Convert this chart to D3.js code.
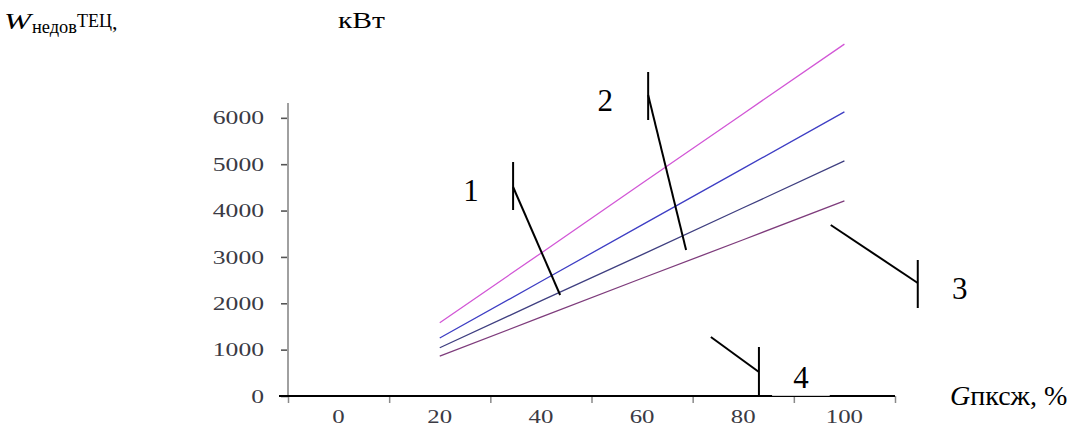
<!DOCTYPE html>
<html>
<head>
<meta charset="utf-8">
<script src="https://cdn.jsdelivr.net/npm/d3@7"></script>
<style>
  body { margin: 0; background: #fff; }
  svg { display: block; font-family: "Liberation Serif", "Times New Roman", serif; }
</style>
</head>
<body>
<div id="chart"></div>
<script>
/************************** DATA **************************/

// G пксж, % (category axis)
var categories = [0, 20, 40, 60, 80, 100];
var seriesX = [20, 40, 60, 80, 100];

// W недов ТЕЦ, кВт
var series1 = [1580, 3080, 4590, 6090, 7590]; // magenta
var series2 = [1250, 2470, 3690, 4910, 6130]; // blue
var series3 = [1040, 2050, 3050, 4060, 5070]; // navy
var series4 = [860, 1700, 2540, 3370, 4210];  // purple

var yTicks = [0, 1000, 2000, 3000, 4000, 5000, 6000];

// callouts in data units: label pos, bar (g, v1, v2), leader [g,v] -> [g,v]
var calloutLabels = ['1', '2', '3', '4'];
var calloutText = [[26.2, 4206], [52.7, 6154], [122.8, 2092], [91.4, 173]];
var calloutBar = [[34.5, 4012, 5047], [61.2, 5953, 6989], [114.5, 1898, 2934], [83.1, 0, 1057]];
var calloutLeader = [[[34.5, 4508], [43.8, 2179]], [[61.2, 6493], [68.7, 3149]],
                     [[97.3, 3689], [114.5, 2437]], [[73.6, 1273], [83.1, 518]]];

/************************** RENDER **************************/

var width = 1071, height = 446;
var colors = ['#d257d6', '#3e3ec4', '#3f3f80', '#7e3c7c'];

var svg = d3.select('#chart').append('svg')
    .attr('width', width)
    .attr('height', height);

// category axis: one band of 20% per category, labels in the middle
var x = d3.scaleLinear().domain([-10, 110]).range([288, 895]);
var y = d3.scaleLinear().domain([0, 6320]).range([396, 103]);

// wide serif digits, like in the picture
function stretch(sel, perChar) {
  sel.attr('textLength', function(d) { return String(d).length * perChar; })
     .attr('lengthAdjust', 'spacingAndGlyphs');
}

// y axis
var yAxis = svg.append('g')
    .attr('transform', 'translate(' + x(-10) + ',0)')
    .call(d3.axisLeft(y).tickValues(yTicks).tickFormat(d3.format('d'))
      .tickSize(7).tickPadding(17));
yAxis.select('.domain').remove();
yAxis.selectAll('.tick line').attr('stroke', '#555').attr('stroke-width', 1.6);
yAxis.selectAll('.tick text')
    .attr('font-family', '"Liberation Serif", serif')
    .attr('font-size', 19)
    .attr('fill', '#3a3a44')
    .call(stretch, 12.8);

svg.append('line')
    .attr('x1', x(-10)).attr('x2', x(-10))
    .attr('y1', y(0)).attr('y2', y.range()[1])
    .attr('stroke', '#a0a0a0')
    .attr('stroke-width', 2);

// x axis: ticks between categories
var xBounds = categories.map(function(c) { return c - 10; }).concat([110]);
var xAxis = svg.append('g')
    .attr('transform', 'translate(0,' + y(0) + ')')
    .call(d3.axisBottom(x).tickValues(xBounds).tickSize(7).tickSizeOuter(0).tickFormat(''));
xAxis.select('.domain').remove();
xAxis.selectAll('.tick line').attr('stroke', '#8a8a8a').attr('stroke-width', 1.5);

svg.append('line')
    .attr('x1', x(-10) - 9).attr('x2', x(110))
    .attr('y1', y(0)).attr('y2', y(0))
    .attr('stroke', '#000')
    .attr('stroke-width', 2);

svg.selectAll('.xLabel')
    .data(categories)
    .enter().append('text')
      .attr('class', 'xLabel')
      .text(function(d) { return d; })
      .attr('x', function(d) { return x(d); })
      .attr('y', y(0) + 27)
      .attr('text-anchor', 'middle')
      .attr('font-size', 19)
      .attr('fill', '#3a3a44')
      .call(stretch, 12.4);

// series lines
var allSeries = [series1, series2, series3, series4];
var line = d3.line()
    .x(function(d, i) { return x(seriesX[i]); })
    .y(function(d) { return y(d); });

svg.selectAll('.series')
    .data(allSeries)
    .enter().append('path')
      .attr('class', 'series')
      .attr('d', line)
      .attr('fill', 'none')
      .attr('stroke', function(d, i) { return colors[i]; })
      .attr('stroke-width', 1.3);

// callouts
svg.selectAll('.leader')
    .data(calloutLeader)
    .enter().append('line')
      .attr('x1', function(d) { return x(d[0][0]); })
      .attr('y1', function(d) { return y(d[0][1]); })
      .attr('x2', function(d) { return x(d[1][0]); })
      .attr('y2', function(d) { return y(d[1][1]); })
      .attr('stroke', '#000')
      .attr('stroke-width', 2);

svg.selectAll('.bar')
    .data(calloutBar)
    .enter().append('line')
      .attr('x1', function(d) { return x(d[0]); })
      .attr('x2', function(d) { return x(d[0]); })
      .attr('y1', function(d) { return y(d[1]); })
      .attr('y2', function(d) { return y(d[2]); })
      .attr('stroke', '#000')
      .attr('stroke-width', 2);

// white box behind "4" eats the axis line
svg.append('rect')
    .attr('x', x(85.7))
    .attr('y', y(700))
    .attr('width', x(97.1) - x(85.7))
    .attr('height', y(0) - y(700) - 0.2)
    .attr('fill', '#fff');

svg.selectAll('.callout')
    .data(calloutLabels)
    .enter().append('text')
      .attr('class', 'callout')
      .text(function(d) { return d; })
      .attr('x', function(d, i) { return x(calloutText[i][0]); })
      .attr('y', function(d, i) { return y(calloutText[i][1]); })
      .attr('text-anchor', 'middle')
      .attr('font-size', 31)
      .attr('fill', '#000');

// axis titles
svg.append('text').text('W')
    .attr('x', 4).attr('y', 29)
    .attr('font-size', 23).attr('font-style', 'italic')
    .attr('textLength', 27).attr('lengthAdjust', 'spacingAndGlyphs');
svg.append('text').text('недов')
    .attr('x', 32).attr('y', 33)
    .attr('font-size', 19)
    .attr('textLength', 45).attr('lengthAdjust', 'spacingAndGlyphs');
svg.append('text').text('ТЕЦ')
    .attr('x', 77).attr('y', 26.5)
    .attr('font-size', 18)
    .attr('textLength', 35).attr('lengthAdjust', 'spacingAndGlyphs');
svg.append('text').text(',')
    .attr('x', 112).attr('y', 29)
    .attr('font-size', 22);
svg.append('text').text('кВт')
    .attr('x', 338).attr('y', 28)
    .attr('font-size', 23)
    .attr('textLength', 47).attr('lengthAdjust', 'spacingAndGlyphs');

var gLabel = svg.append('text')
    .attr('x', 950).attr('y', 405)
    .attr('font-size', 28);
gLabel.append('tspan').text('G').attr('font-style', 'italic');
gLabel.append('tspan').text('пксж, %');
</script>
</body>
</html>
